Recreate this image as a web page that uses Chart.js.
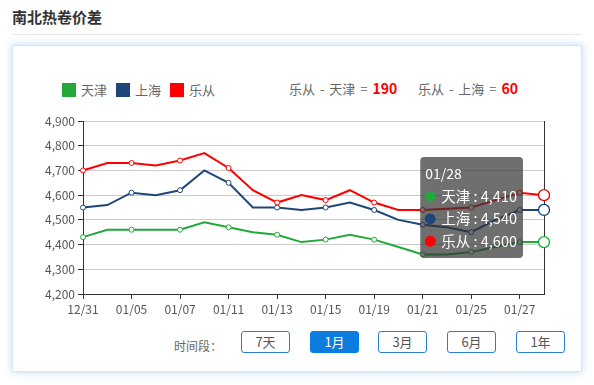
<!DOCTYPE html>
<html>
<head>
<meta charset="utf-8">
<script src="https://cdn.jsdelivr.net/npm/chart.js@4/dist/chart.umd.min.js"></script>
<style>
  body { margin: 0; width: 594px; height: 385px; background: #fff; position: relative; overflow: hidden;
         font-family: "Microsoft YaHei", "Noto Sans CJK SC", sans-serif; }
  .title { position: absolute; left: 12px; top: 6px; font-size: 15px; font-weight: bold; color: #333; }
  .title-line { position: absolute; left: 12px; top: 34px; width: 570px; height: 1px; background: #e6e8eb; }
  .panel { position: absolute; left: 12px; top: 45px; width: 568px; height: 325px; border: 1px solid #dde4ec;
           box-shadow: 0 0 8px rgba(70, 150, 235, 0.35); background: #fff; }
  .legend { position: absolute; left: 62px; top: 80px; display: flex; font-size: 13px; color: #666; }
  .legend span.item { display: flex; align-items: center; margin-right: 9px; }
  .legend i { display: inline-block; width: 14px; height: 14px; margin-right: 5px; }
  .diff { position: absolute; top: 78px; font-size: 13px; color: #666; white-space: nowrap; word-spacing: 2px; }
  .diff b { color: #f00; font-size: 14px; }
  #wrap { position: absolute; left: 0; top: 110px; width: 594px; height: 215px; }
  .period { position: absolute; left: 174px; top: 337px; font-size: 12px; color: #666; }
  .btn { position: absolute; top: 331px; width: 47px; height: 20px; border: 1px solid #2a7fd4; border-radius: 3px;
         font-size: 13px; color: #555; text-align: center; line-height: 20px; }
  .btn.on { background: #0b7de0; color: #fff; border-color: #0b7de0; }
</style>
</head>
<body>
<div class="title">南北热卷价差</div>
<div class="title-line"></div>
<div class="panel"></div>
<div class="legend" id="legend"></div>
<div class="diff" id="diff1" style="left:289px"></div>
<div class="diff" id="diff2" style="left:418px"></div>
<div id="wrap"><canvas id="chart"></canvas></div>
<div class="period">时间段：</div>
<div class="btn" style="left:241px">7天</div>
<div class="btn on" style="left:310px">1月</div>
<div class="btn" style="left:378px">3月</div>
<div class="btn" style="left:447px">6月</div>
<div class="btn" style="left:516px">1年</div>
<script>
const dates = ['12/31', '01/04', '01/05', '01/06', '01/07', '01/08', '01/11', '01/12', '01/13', '01/14',
  '01/15', '01/18', '01/19', '01/20', '01/21', '01/22', '01/25', '01/26', '01/27', '01/28'];
const tianjin = [4430, 4460, 4460, 4460, 4460, 4490, 4470, 4450, 4440, 4410,
  4420, 4440, 4420, 4390, 4360, 4360, 4370, 4390, 4410, 4410];
const shanghai = [4550, 4560, 4610, 4600, 4620, 4700, 4650, 4550, 4550, 4540,
  4550, 4570, 4540, 4500, 4480, 4470, 4450, 4500, 4540, 4540];
const lecong = [4700, 4730, 4730, 4720, 4740, 4770, 4710, 4620, 4570, 4600,
  4580, 4620, 4570, 4540, 4540, 4545, 4550, 4580, 4610, 4600];
const seriesNames = ['天津', '上海', '乐从'];
const seriesColors = ['#22a93a', '#1e4679', '#ff0000'];
const yTicks = { min: 4200, max: 4900, step: 100 };

const fmt = v => v.toLocaleString('en-US');
const last = a => a[a.length - 1];

// legend + differences
document.getElementById('legend').innerHTML = seriesNames.map((n, i) =>
  `<span class="item"><i style="background:${seriesColors[i]}"></i>${n}</span>`).join('');
document.getElementById('diff1').innerHTML = `${seriesNames[2]} - ${seriesNames[0]} = <b>${last(lecong) - last(tianjin)}</b>`;
document.getElementById('diff2').innerHTML = `${seriesNames[2]} - ${seriesNames[1]} = <b>${last(lecong) - last(shanghai)}</b>`;

Chart.defaults.font.family = '"Microsoft YaHei", "Noto Sans CJK SC", sans-serif';
Chart.defaults.color = '#555';

Chart.Tooltip.positioners.leftOfPoint = function (elements) {
  if (!elements.length) return false;
  const area = this.chart.chartArea;
  return { x: elements[0].element.x - 21, y: (area.top + area.bottom) / 2 };
};

const makeSet = (label, data, color) => ({
  label, data,
  borderColor: color,
  backgroundColor: color,
  borderWidth: 2,
  tension: 0,
  pointRadius: c => (c.dataIndex % 2 === 0 ? 2.5 : 0),
  pointBackgroundColor: '#fff',
  pointBorderColor: color,
  pointBorderWidth: 1,
  pointHoverRadius: 5.5,
  pointHoverBorderWidth: 1.3,
  pointHoverBackgroundColor: '#fff'
});

const chart = new Chart(document.getElementById('chart'), {
  type: 'line',
  data: {
    labels: dates,
    datasets: [
      makeSet(seriesNames[0], tianjin, seriesColors[0]),
      makeSet(seriesNames[1], shanghai, seriesColors[1]),
      makeSet(seriesNames[2], lecong, seriesColors[2])
    ]
  },
  options: {
    responsive: true,
    maintainAspectRatio: false,
    animation: false,
    events: [],
    layout: { padding: { top: 11, right: 50, bottom: 1, left: 0 } },
    plugins: {
      legend: { display: false },
      tooltip: {
        position: 'leftOfPoint',
        mode: 'index',
        xAlign: 'right',
        yAlign: 'center',
        caretSize: 0,
        caretPadding: 0,
        backgroundColor: 'rgba(50,50,50,0.7)',
        multiKeyBackground: 'rgba(0,0,0,0)',
        cornerRadius: 4,
        padding: { top: 8, bottom: 8, left: 5, right: 6 },
        titleFont: { size: 14, weight: 'normal' },
        bodyFont: { size: 14.5 },
        titleMarginBottom: 6,
        bodySpacing: 5,
        usePointStyle: true,
        boxWidth: 10,
        boxHeight: 10,
        boxPadding: 4,
        callbacks: {
          label: c => `${c.dataset.label} : ${fmt(c.parsed.y)}`,
          labelColor: c => ({ borderColor: c.dataset.borderColor, backgroundColor: c.dataset.borderColor }),
          labelPointStyle: () => ({ pointStyle: 'circle', rotation: 0 })
        }
      }
    },
    scales: {
      x: {
        offset: false,
        grid: { drawOnChartArea: false, tickLength: 5, tickColor: '#333' },
        border: { color: '#333' },
        ticks: {
          autoSkip: false,
          maxRotation: 0,
          padding: 3,
          font: { size: 12 },
          callback: (v, i) => (i % 2 === 0 ? dates[i] : null)
        },
        afterFit: s => { s.height = 30; }
      },
      y: {
        min: yTicks.min,
        max: yTicks.max,
        grid: { color: '#cccccc', tickLength: 5, tickColor: '#333' },
        border: { color: '#333' },
        ticks: { stepSize: yTicks.step, padding: 3, font: { size: 12 }, callback: v => fmt(v) },
        afterFit: s => { s.width = 83; }
      },
      yRight: {
        position: 'right',
        min: yTicks.min,
        max: yTicks.max,
        grid: { display: false },
        border: { color: '#333' },
        ticks: { display: false },
        afterFit: s => { s.width = 0; }
      }
    }
  }
});

const active = chart.data.datasets.map((d, i) => ({ datasetIndex: i, index: dates.length - 1 }));
chart.setActiveElements(active);
chart.tooltip.setActiveElements(active, { x: 0, y: 0 });
chart.update();
</script>
</body>
</html>
